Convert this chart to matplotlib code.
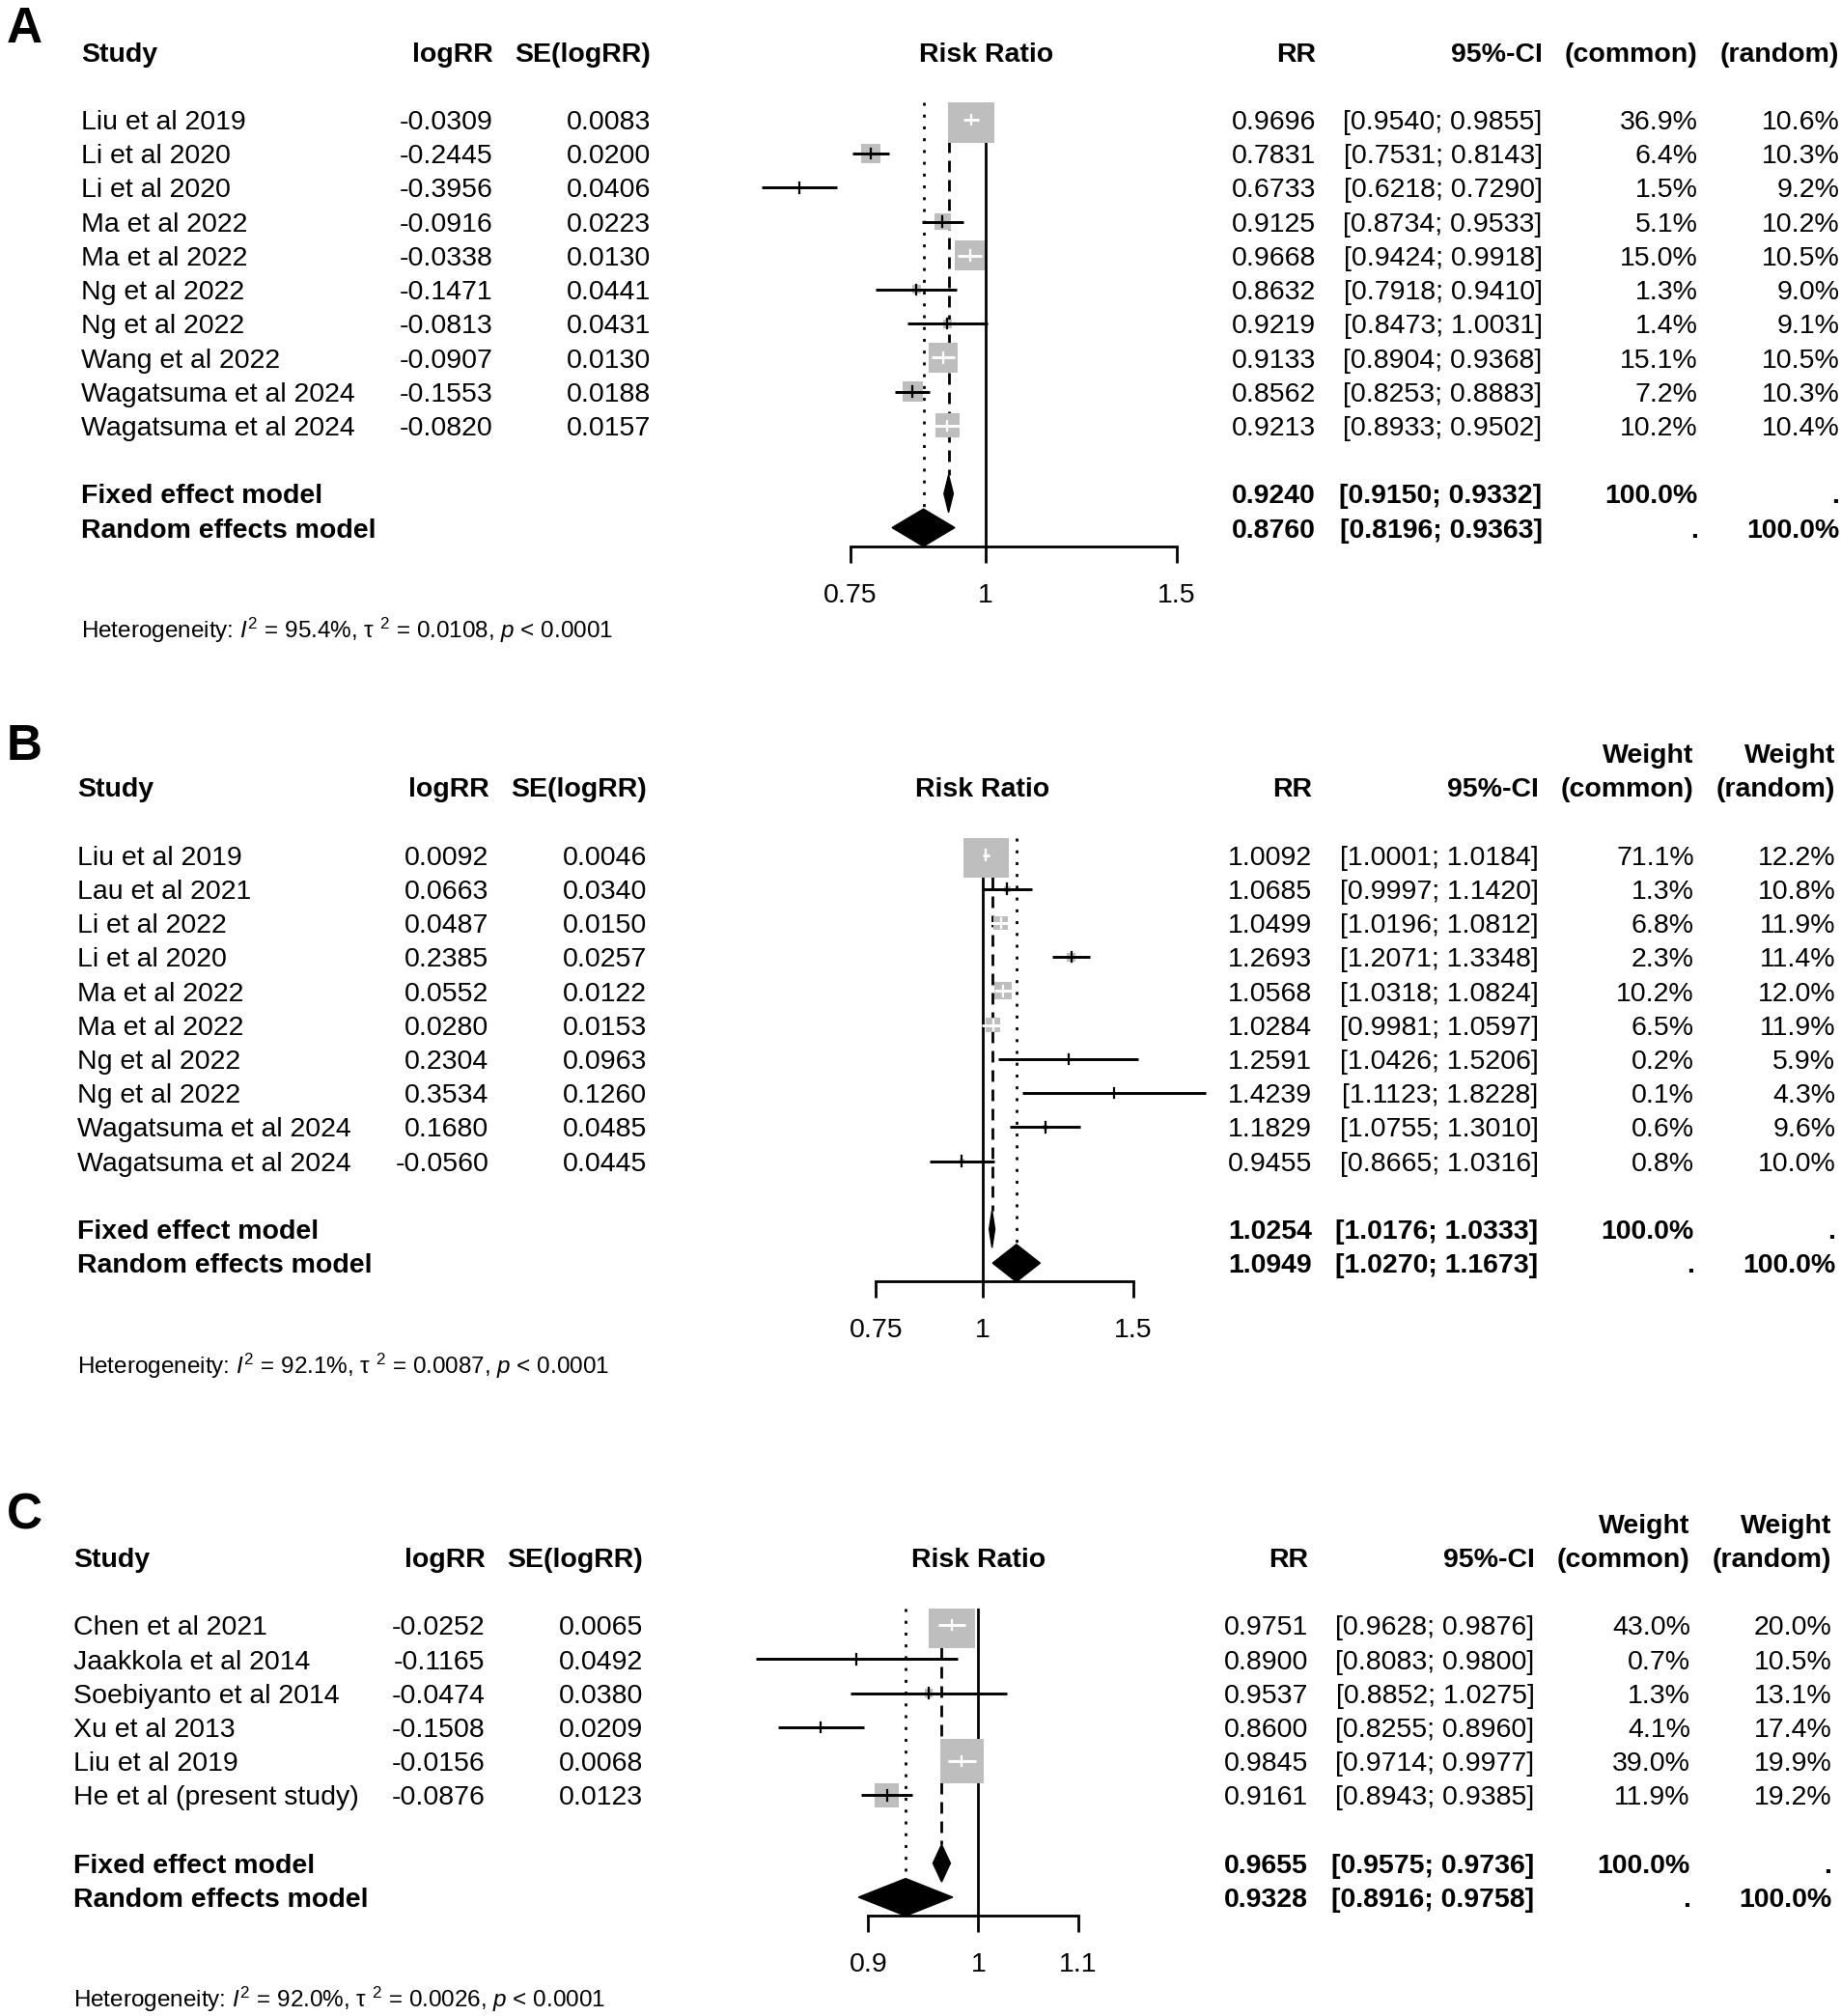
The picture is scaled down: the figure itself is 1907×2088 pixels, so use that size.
import numpy as np
import matplotlib
matplotlib.use('Agg')
import matplotlib.pyplot as plt
from matplotlib.patches import Polygon
from matplotlib.transforms import blended_transform_factory

plt.rcParams['font.family'] = 'Liberation Sans'
plt.rcParams['mathtext.fontset'] = 'custom'
plt.rcParams['mathtext.rm'] = 'Liberation Sans'
plt.rcParams['mathtext.it'] = 'Liberation Sans:italic'
plt.rcParams['mathtext.bf'] = 'Liberation Sans:bold'

# ---------------- panel A ----------------
a_study = ['Liu et al 2019', 'Li et al 2020', 'Li et al 2020', 'Ma et al 2022',
           'Ma et al 2022', 'Ng et al 2022', 'Ng et al 2022', 'Wang et al 2022',
           'Wagatsuma et al 2024', 'Wagatsuma et al 2024']
a_logrr = [-0.0309, -0.2445, -0.3956, -0.0916, -0.0338, -0.1471, -0.0813, -0.0907, -0.1553, -0.0820]
a_se = [0.0083, 0.0200, 0.0406, 0.0223, 0.0130, 0.0441, 0.0431, 0.0130, 0.0188, 0.0157]
a_rr = [0.9696, 0.7831, 0.6733, 0.9125, 0.9668, 0.8632, 0.9219, 0.9133, 0.8562, 0.9213]
a_lo = [0.9540, 0.7531, 0.6218, 0.8734, 0.9424, 0.7918, 0.8473, 0.8904, 0.8253, 0.8933]
a_hi = [0.9855, 0.8143, 0.7290, 0.9533, 0.9918, 0.9410, 1.0031, 0.9368, 0.8883, 0.9502]
a_wc = [36.9, 6.4, 1.5, 5.1, 15.0, 1.3, 1.4, 15.1, 7.2, 10.2]
a_wr = [10.6, 10.3, 9.2, 10.2, 10.5, 9.0, 9.1, 10.5, 10.3, 10.4]
a_fixed = [0.9240, 0.9150, 0.9332]
a_random = [0.8760, 0.8196, 0.9363]
a_het = ['95.4%', '0.0108', '0.0001']
a_ticks = [0.75, 1, 1.5]
a_ticklabels = ['0.75', '1', '1.5']

# ---------------- panel B ----------------
b_study = ['Liu et al 2019', 'Lau et al 2021', 'Li et al 2022', 'Li et al 2020',
           'Ma et al 2022', 'Ma et al 2022', 'Ng et al 2022', 'Ng et al 2022',
           'Wagatsuma et al 2024', 'Wagatsuma et al 2024']
b_logrr = [0.0092, 0.0663, 0.0487, 0.2385, 0.0552, 0.0280, 0.2304, 0.3534, 0.1680, -0.0560]
b_se = [0.0046, 0.0340, 0.0150, 0.0257, 0.0122, 0.0153, 0.0963, 0.1260, 0.0485, 0.0445]
b_rr = [1.0092, 1.0685, 1.0499, 1.2693, 1.0568, 1.0284, 1.2591, 1.4239, 1.1829, 0.9455]
b_lo = [1.0001, 0.9997, 1.0196, 1.2071, 1.0318, 0.9981, 1.0426, 1.1123, 1.0755, 0.8665]
b_hi = [1.0184, 1.1420, 1.0812, 1.3348, 1.0824, 1.0597, 1.5206, 1.8228, 1.3010, 1.0316]
b_wc = [71.1, 1.3, 6.8, 2.3, 10.2, 6.5, 0.2, 0.1, 0.6, 0.8]
b_wr = [12.2, 10.8, 11.9, 11.4, 12.0, 11.9, 5.9, 4.3, 9.6, 10.0]
b_fixed = [1.0254, 1.0176, 1.0333]
b_random = [1.0949, 1.0270, 1.1673]
b_het = ['92.1%', '0.0087', '0.0001']
b_ticks = [0.75, 1, 1.5]
b_ticklabels = ['0.75', '1', '1.5']

# ---------------- panel C ----------------
c_study = ['Chen et al 2021', 'Jaakkola et al 2014', 'Soebiyanto et al 2014',
           'Xu et al 2013', 'Liu et al 2019', 'He et al (present study)']
c_logrr = [-0.0252, -0.1165, -0.0474, -0.1508, -0.0156, -0.0876]
c_se = [0.0065, 0.0492, 0.0380, 0.0209, 0.0068, 0.0123]
c_rr = [0.9751, 0.8900, 0.9537, 0.8600, 0.9845, 0.9161]
c_lo = [0.9628, 0.8083, 0.8852, 0.8255, 0.9714, 0.8943]
c_hi = [0.9876, 0.9800, 1.0275, 0.8960, 0.9977, 0.9385]
c_wc = [43.0, 0.7, 1.3, 4.1, 39.0, 11.9]
c_wr = [20.0, 10.5, 13.1, 17.4, 19.9, 19.2]
c_fixed = [0.9655, 0.9575, 0.9736]
c_random = [0.9328, 0.8916, 0.9758]
c_het = ['92.0%', '0.0026', '0.0001']
c_ticks = [0.9, 1, 1.1]
c_ticklabels = ['0.9', '1', '1.1']

# reference picture is laid out in a 1432 x 1568 grid
W, H = 1432.0, 1568.0
DY = 26.45          # row spacing
FS = 20.5           # main font size
FS_HET = 17.5
BOX_MAX = 34.5      # side of biggest square, points
GRAY = '#bebebe'


def fx(px):
    return px / W


def draw_panel(fig, label, label_y, study, logrr, se, rr, lo, hi, wc, wr,
               fixed, random, het, ticks, ticklabels, y0, ax_left, ax_right,
               xoff, weight_header):
    k = len(study)
    r_fixed = k + 1
    r_random = k + 2
    bottom = r_random + 0.54
    top = -0.5
    y_top_px = y0 + top * DY
    y_bot_px = y0 + bottom * DY
    ax = fig.add_axes([fx(ax_left), 1 - y_bot_px / H,
                       fx(ax_right - ax_left), (y_bot_px - y_top_px) / H])
    ax.set_xscale('log')
    ax.set_xlim(ticks[0], ticks[-1])
    ax.set_ylim(bottom, top)
    for s in ['left', 'right', 'top']:
        ax.spines[s].set_visible(False)
    ax.spines['bottom'].set_linewidth(2)
    ax.set_yticks([])
    ax.set_xticks(ticks)
    ax.set_xticklabels(ticklabels)
    ax.xaxis.set_minor_locator(matplotlib.ticker.NullLocator())
    ax.tick_params(axis='x', direction='out', length=12.5, width=2,
                   labelsize=FS, pad=15)
    ax.patch.set_alpha(0)

    # reference and pooled lines
    ax.plot([1, 1], [top, bottom], color='black', lw=2, zorder=1)
    ax.plot([fixed[0], fixed[0]], [top, r_fixed - 0.55], color='black', lw=2,
            ls=(0, (4.3, 2.9)), zorder=1)
    ax.plot([random[0], random[0]], [top, r_random - 0.55], color='black', lw=2,
            ls=(0, (1.1, 3.3)), zorder=1)

    # squares sized by common weight
    wc_arr = np.array(wc)
    side_pt = BOX_MAX * np.sqrt(wc_arr / wc_arr.max())
    rows = np.arange(k)
    ax.scatter(rr, rows, s=side_pt ** 2, marker='s', color=GRAY,
               edgecolors='none', zorder=2)

    # white CI inside the box, black otherwise
    px_per_log = (ax_right - ax_left) / np.log(ticks[-1] / ticks[0])
    side_disp = side_pt / 0.72 / (1908.0 / W)
    for i in range(k):
        ci_disp = np.log(hi[i] / lo[i]) * px_per_log
        col = 'white' if ci_disp < 1.62 * side_disp[i] else 'black'
        ax.plot([lo[i], hi[i]], [i, i], color=col, lw=2.1, zorder=3,
                clip_on=False, solid_capstyle='butt')
        ax.plot([rr[i], rr[i]], [i - 0.15, i + 0.15], color=col, lw=1.6,
                zorder=3, clip_on=False)

    # diamonds
    for row, (est, l, h) in ((r_fixed, fixed), (r_random, random)):
        d = Polygon([(l, row), (est, row - 0.55), (h, row), (est, row + 0.55)],
                    closed=True, facecolor='black', edgecolor='black', lw=1,
                    zorder=3, clip_on=False)
        ax.add_patch(d)

    # text columns
    tr = blended_transform_factory(fig.transFigure, ax.transData)
    off = 0.289
    cols = {'study': 63, 'logrr': 383, 'se': 506, 'rr': 1023, 'ci': 1199,
            'wc': 1320, 'wr': 1430}
    c = {key: fx(v + xoff) for key, v in cols.items()}

    def t(x, row, s, ha='right', bold=False, size=FS):
        ax.text(x, row + off, s, transform=tr, ha=ha, va='baseline',
                fontsize=size, fontweight='bold' if bold else 'normal',
                color='black')

    hr = -2
    t(c['study'], hr, 'Study', ha='left', bold=True)
    t(c['logrr'], hr, 'logRR', bold=True)
    t(c['se'], hr, 'SE(logRR)', bold=True)
    ax.text(1, hr + off, 'Risk Ratio', ha='center', va='baseline', fontsize=FS,
            fontweight='bold', transform=ax.transData)
    t(c['rr'], hr, 'RR', bold=True)
    t(c['ci'], hr, '95%-CI', bold=True)
    t(c['wc'], hr, '(common)', bold=True)
    t(c['wr'], hr, '(random)', bold=True)
    if weight_header:
        t(c['wc'], hr - 1, 'Weight', bold=True)
        t(c['wr'], hr - 1, 'Weight', bold=True)

    for i in range(k):
        t(c['study'], i, study[i], ha='left')
        t(c['logrr'], i, f'{logrr[i]:.4f}')
        t(c['se'], i, f'{se[i]:.4f}')
        t(c['rr'], i, f'{rr[i]:.4f}')
        t(c['ci'], i, f'[{lo[i]:.4f}; {hi[i]:.4f}]')
        t(c['wc'], i, f'{wc[i]:.1f}%')
        t(c['wr'], i, f'{wr[i]:.1f}%')

    t(c['study'], r_fixed, 'Fixed effect model', ha='left', bold=True)
    t(c['rr'], r_fixed, f'{fixed[0]:.4f}', bold=True)
    t(c['ci'], r_fixed, f'[{fixed[1]:.4f}; {fixed[2]:.4f}]', bold=True)
    t(c['wc'], r_fixed, '100.0%', bold=True)
    t(c['wr'], r_fixed, '.', bold=True)
    t(c['study'], r_random, 'Random effects model', ha='left', bold=True)
    t(c['rr'], r_random, f'{random[0]:.4f}', bold=True)
    t(c['ci'], r_random, f'[{random[1]:.4f}; {random[2]:.4f}]', bold=True)
    t(c['wc'], r_random, '.', bold=True)
    t(c['wr'], r_random, '100.0%', bold=True)

    het_txt = (r'Heterogeneity: $I^2$ = ' + het[0].replace('%', r'%')
               + r', τ $^2$ = ' + het[1] + r', $p$ < ' + het[2])
    ax.text(c['study'], r_random + 3 + 0.247, het_txt, transform=tr, ha='left',
            va='baseline', fontsize=FS_HET)

    fig.text(fx(5), 1 - label_y / H, label, ha='left', va='baseline',
             fontsize=37, fontweight='bold')
    return ax


fig = plt.figure(figsize=(19.08, 20.88), dpi=100)
draw_panel(fig, 'A', 33, a_study, a_logrr, a_se, a_rr, a_lo, a_hi, a_wc, a_wr,
           a_fixed, a_random, a_het, a_ticks, a_ticklabels,
           y0=93, ax_left=661, ax_right=915, xoff=0, weight_header=False)
draw_panel(fig, 'B', 591, b_study, b_logrr, b_se, b_rr, b_lo, b_hi, b_wc, b_wr,
           b_fixed, b_random, b_het, b_ticks, b_ticklabels,
           y0=665, ax_left=681, ax_right=881, xoff=-3, weight_header=True)
draw_panel(fig, 'C', 1189, c_study, c_logrr, c_se, c_rr, c_lo, c_hi, c_wc, c_wr,
           c_fixed, c_random, c_het, c_ticks, c_ticklabels,
           y0=1264, ax_left=675, ax_right=838, xoff=-6, weight_header=True)

fig.savefig('out.png', dpi=100)
